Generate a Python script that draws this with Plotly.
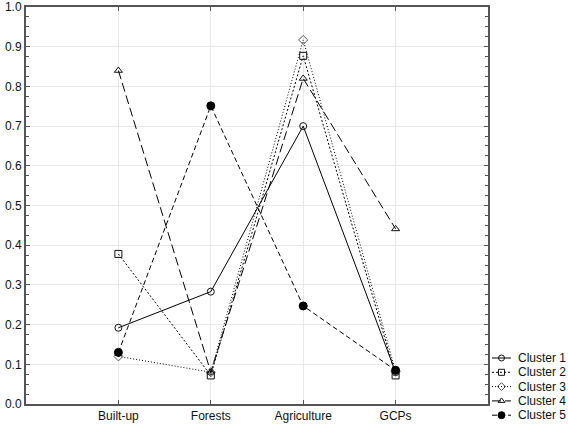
import plotly.graph_objects as go

categories = ["Built-up", "Forests", "Agriculture", "GCPs"]
cluster1 = [0.192, 0.283, 0.700, 0.080]
cluster2 = [0.378, 0.072, 0.877, 0.072]
cluster3 = [0.120, 0.080, 0.917, 0.082]
cluster4 = [0.840, 0.080, 0.820, 0.441]
cluster5 = [0.130, 0.751, 0.247, 0.085]
series_names = ["Cluster 1", "Cluster 2", "Cluster 3", "Cluster 4", "Cluster 5"]
y_ticks = [0.0, 0.1, 0.2, 0.3, 0.4, 0.5, 0.6, 0.7, 0.8, 0.9, 1.0]

W, H = 568, 425
PL, PR, PT, PB = 26, 488, 7, 404  # plot area in pixels

series = [cluster1, cluster2, cluster3, cluster4, cluster5]
styles = [
    dict(dash="solid", symbol="circle-open", size=7, color="#111111"),
    dict(dash="2px,2px", symbol="square-open", size=7, color="#111111"),
    dict(dash="1px,2px", symbol="diamond-open", size=7, color="#555555"),
    dict(dash="9px,4px", symbol="triangle-up-open", size=7, color="#111111"),
    dict(dash="5px,3px", symbol="circle", size=8, color="#000000"),
]

xpos = list(range(1, len(categories) + 1))

fig = go.Figure()
for name, vals, st in zip(series_names, series, styles):
    fig.add_trace(go.Scatter(
        x=xpos, y=vals, name=name, mode="lines+markers", showlegend=False,
        line=dict(color="#000000", width=1, dash=st["dash"]),
        marker=dict(symbol=st["symbol"], size=st["size"], color=st["color"],
                    line=dict(width=1, color=st["color"])),
        xaxis="x", yaxis="y",
    ))

# Compact legend drawn on a pixel-mapped inset axis (right strip)
leg_x0, leg_x1, leg_text_x = 492, 511, 516
leg_y0, leg_dy = 358, 14.3
for i, (name, st) in enumerate(zip(series_names, styles)):
    yy = leg_y0 + i * leg_dy
    fig.add_trace(go.Scatter(
        x=[leg_x0, leg_x1], y=[yy, yy], mode="lines", showlegend=False,
        line=dict(color="#000000", width=1, dash=st["dash"]),
        xaxis="x2", yaxis="y2", hoverinfo="skip",
    ))
    fig.add_trace(go.Scatter(
        x=[(leg_x0 + leg_x1) / 2], y=[yy], mode="markers", showlegend=False,
        marker=dict(symbol=st["symbol"], size=st["size"] - 1, color=st["color"],
                    line=dict(width=1, color=st["color"])),
        xaxis="x2", yaxis="y2", hoverinfo="skip",
    ))
    fig.add_annotation(x=leg_text_x, y=yy, xref="x2", yref="y2", text=name,
                       showarrow=False, xanchor="left", yanchor="middle",
                       font=dict(size=12, color="#111111"))

axis_common = dict(
    showline=True, linecolor="#555555", linewidth=2, mirror="ticks",
    ticks="inside", tickcolor="#555555", ticklen=4,
    gridcolor="#e8e8e8", gridwidth=1, zeroline=False, automargin=False,
    tickfont=dict(size=12, color="#111111"),
)

fig.update_layout(
    width=W, height=H,
    margin=dict(l=0, r=0, t=0, b=0, autoexpand=False),
    paper_bgcolor="white", plot_bgcolor="white",
    font=dict(family="Arial, Liberation Sans, sans-serif", size=12, color="#111111"),
    xaxis=dict(domain=[PL / W, PR / W], range=[0, 5], tickvals=xpos,
               ticktext=categories, anchor="y", **axis_common),
    yaxis=dict(domain=[1 - PB / H, 1 - PT / H], range=[0, 1.0], tickvals=y_ticks,
               ticktext=[f"{v:.1f}" for v in y_ticks], anchor="x",
               minor=dict(dtick=0.025, ticks="inside", ticklen=3,
                          tickcolor="#555555", showgrid=False),
               **axis_common),
    xaxis2=dict(domain=[PR / W, 1.0], range=[PR, W], visible=False,
                fixedrange=True, anchor="y2"),
    yaxis2=dict(domain=[0.0, 1.0], range=[H, 0], visible=False,
                fixedrange=True, anchor="x2"),
    showlegend=False,
)

fig.write_html("out.html", post_script="document.body.style.margin='0px';",
               config={"displayModeBar": False})
